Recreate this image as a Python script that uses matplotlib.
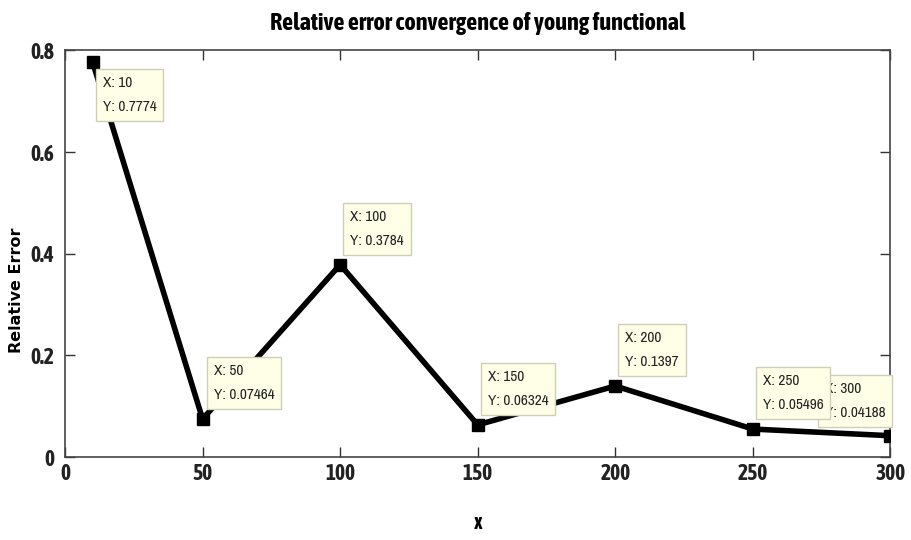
import matplotlib
matplotlib.use("Agg")
import matplotlib.pyplot as plt
from matplotlib import font_manager

x = [10, 50, 100, 150, 200, 250, 300]
err = [0.7774, 0.07464, 0.3784, 0.06324, 0.1397, 0.05496, 0.04188]
tip_labels = ["0.7774", "0.07464", "0.3784", "0.06324", "0.1397", "0.05496", "0.04188"]

# look for a narrow face, preferably one with a bold weight
fl = font_manager.fontManager.ttflist
cond = sorted({f.name for f in fl if "Condensed" in f.name or "Narrow" in f.name})
cond_bold = sorted({f.name for f in fl if f.name in cond and
                    (f.weight == "bold" or (isinstance(f.weight, int) and f.weight >= 600))})
narrow = cond[:1] + ["DejaVu Sans"]
narrow_b = (cond_bold or cond)[:1] + ["DejaVu Sans"]

fig = plt.figure(figsize=(9.12, 5.4), dpi=100)
ax = fig.add_axes([0.0713, 0.1537, 0.905, 0.753])

ax.plot(x, err, color="black", linewidth=4, marker="s", markersize=9,
        markerfacecolor="black", zorder=3)

ax.set_xlim(0, 300)
ax.set_ylim(0, 0.8)
ax.set_xticks([0, 50, 100, 150, 200, 250, 300])
ax.set_yticks([0, 0.2, 0.4, 0.6, 0.8])
ax.set_yticklabels(["0", "0.2", "0.4", "0.6", "0.8"])
ax.tick_params(direction="in", length=7, top=True, right=True, width=1,
               color="#333333", labelsize=15.5, pad=8)
ax.tick_params(axis="x", pad=4)
for lab in ax.get_xticklabels() + ax.get_yticklabels():
    lab.set_family(narrow_b)
    lab.set_fontweight("bold")
    lab.set_fontstretch("condensed")
    lab.set_color("#222222")
for s in ax.spines.values():
    s.set_color("#444444")
    s.set_linewidth(1.2)

ax.set_title("Relative error convergence of young functional", family=narrow_b,
             fontweight="bold", fontstretch="condensed", fontsize=17.5, pad=15)
ax.set_xlabel("x", family=narrow_b, fontweight="bold", fontstretch="condensed",
              fontsize=15.5, labelpad=20)
ax.set_ylabel("Relative Error", family="DejaVu Sans", fontweight="bold",
              fontsize=11.5)
ax.yaxis.set_label_coords(-0.05, 0.41)

# data tips (offset in pixels from point); the 300 tip sits under the 250 one
offsets = [(10, -14), (11, 17), (10, 17), (10, 17), (10, 17), (10, 17), (-5, 16)]
zs = [5, 5, 5, 5, 5, 5, 4]
for xi, yi, lab, (dx, dy), z in zip(x, err, tip_labels, offsets, zs):
    ha = "right" if dx < 0 else "left"
    va = "top" if dy < 0 else "bottom"
    ax.annotate("X: %d\nY: %s" % (xi, lab), (xi, yi), xytext=(dx, dy),
                textcoords="offset pixels", ha=ha, va=va, multialignment="left",
                family=narrow, fontstretch="condensed", fontsize=11,
                linespacing=1.9, color="#222222", zorder=z,
                bbox=dict(boxstyle="square,pad=0.45", fc="#FFFFE8",
                          ec="#CFCFB8", lw=1))

fig.savefig("out.png", dpi=100)
